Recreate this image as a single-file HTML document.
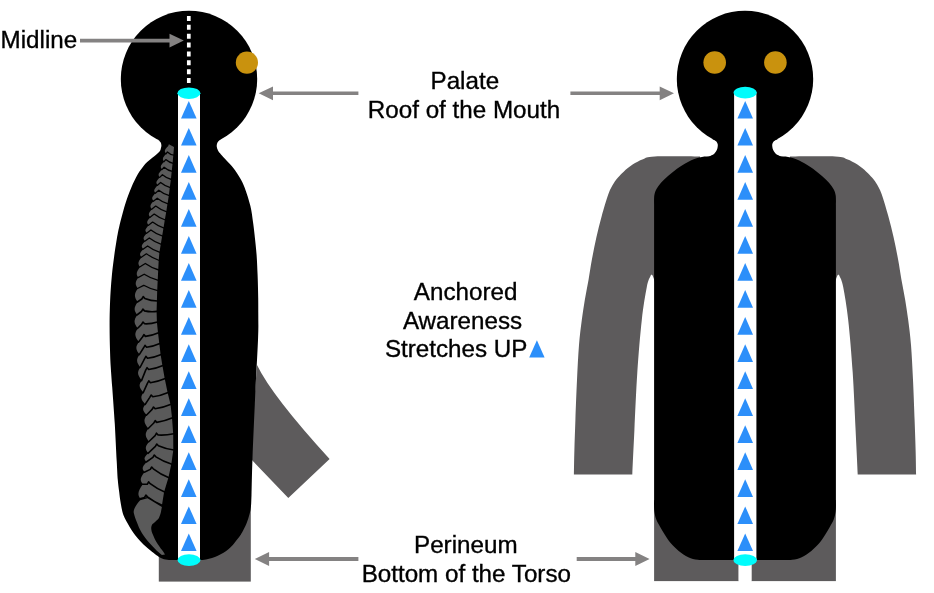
<!DOCTYPE html>
<html><head><meta charset="utf-8"><title>Anchored Awareness</title>
<style>
html,body{margin:0;padding:0;background:#fff;}
body{width:934px;height:593px;position:relative;overflow:hidden;font-family:"Liberation Sans",sans-serif;}
</style></head><body>
<svg width="934" height="593" viewBox="0 0 934 593" style="position:absolute;left:0;top:0;will-change:transform">
<path fill="#5d5b5c" d="M257 365Q272 396 329.6 459L288.3 498L250 458Z"/>
<rect fill="#5d5b5c" x="158.8" y="505" width="92" height="76.6"/>
<path fill="#000" d="M158.3 140.2C158.7 140.5 160.1 141.4 160.6 142.3C161.1 143.2 161.4 144.4 161.4 145.6C161.4 146.8 160.9 148.5 160.6 149.5C160.2 150.5 160.0 151.0 159.3 151.8C158.6 152.7 157.6 153.6 156.4 154.6C155.2 155.6 153.5 156.8 152.0 158.0C150.5 159.2 148.7 160.6 147.2 162.0C145.7 163.4 144.5 164.8 143.2 166.4C141.9 168.0 140.8 169.5 139.6 171.3C138.4 173.1 137.1 175.3 136.0 177.4C134.9 179.5 133.9 181.6 132.8 183.9C131.8 186.2 130.7 188.9 129.7 191.4C128.7 193.9 127.8 196.4 126.9 199.1C126.0 201.8 125.0 204.7 124.2 207.5C123.4 210.3 122.7 213.1 121.9 216.0C121.1 218.9 120.3 221.9 119.6 225.0C118.9 228.1 118.1 231.7 117.6 234.5C117.0 237.3 116.9 238.4 116.3 242.0C115.7 245.6 114.9 250.7 114.2 256.0C113.5 261.3 112.6 268.1 112.0 274.0C111.4 279.9 111.0 285.6 110.6 291.6C110.2 297.6 110.0 304.1 109.8 310.0C109.6 315.9 109.6 320.3 109.6 327.0C109.6 333.7 109.8 343.2 110.0 350.0C110.2 356.8 110.4 361.8 110.8 368.0C111.2 374.2 111.5 377.7 112.2 387.0C112.9 396.3 114.0 411.7 114.8 424.0C115.5 436.3 116.2 451.7 116.7 461.0C117.2 470.3 117.4 474.8 117.8 480.0C118.2 485.2 118.8 488.7 119.2 492.0C119.6 495.3 119.7 496.7 120.2 500.0C120.7 503.3 121.7 508.8 122.4 511.8C123.2 514.8 123.8 516.0 124.7 518.0C125.6 520.0 126.6 521.7 127.7 523.6C128.8 525.5 129.9 527.6 131.2 529.6C132.5 531.6 133.8 533.4 135.4 535.4C137.0 537.4 138.7 539.5 140.6 541.5C142.5 543.5 144.4 545.3 146.6 547.2C148.8 549.1 151.6 551.5 153.7 553.1C155.8 554.7 157.3 555.9 159.0 556.9C160.7 557.9 162.2 558.7 164.0 559.2C165.8 559.7 169.0 559.9 170.0 560.0L200.0 560.0C201.0 559.9 204.0 559.8 206.0 559.4C208.0 559.0 210.0 558.5 212.0 557.9C214.0 557.3 215.9 556.6 217.8 555.8C219.7 554.9 221.7 553.9 223.5 552.8C225.3 551.7 227.1 550.3 228.7 549.0C230.2 547.7 231.5 546.4 232.8 545.0C234.1 543.6 235.2 542.0 236.3 540.6C237.4 539.2 238.5 537.9 239.5 536.5C240.5 535.1 241.0 534.3 242.2 532.2C243.3 530.1 245.2 526.6 246.4 523.7C247.6 520.8 248.6 517.8 249.3 515.0C250.1 512.2 250.5 510.3 250.9 507.0C251.3 503.7 251.2 503.2 251.5 495.0C251.8 486.8 251.9 473.8 252.5 458.0C253.1 442.2 254.1 419.7 255.0 400.0C255.9 380.3 257.4 354.0 258.0 340.0C258.6 326.0 258.3 323.0 258.3 316.0C258.3 309.0 258.3 304.8 258.2 298.0C258.1 291.2 257.9 282.2 257.6 275.0C257.3 267.8 257.1 261.7 256.6 255.0C256.1 248.3 255.2 240.5 254.6 235.0C254.0 229.5 253.7 226.8 253.0 222.0C252.3 217.2 251.8 211.7 250.4 206.0C249.0 200.3 246.5 192.7 244.8 188.0C243.1 183.3 241.9 181.3 240.0 178.0C238.1 174.7 235.8 171.1 233.5 168.2C231.2 165.3 228.6 162.8 226.5 160.5C224.4 158.2 222.4 156.2 221.0 154.5C219.6 152.8 218.7 151.9 218.0 150.5C217.3 149.1 216.7 147.7 216.7 146.3C216.7 144.9 217.0 143.3 217.8 142.0C218.6 140.7 221.0 138.8 221.7 138.2Z"/>
<circle cx="189" cy="79" r="68.2" fill="#000"/>
<circle cx="246.9" cy="62.6" r="11.1" fill="#c9920e"/>
<path fill="#5a5a5a" d="M168.9 144.3L174.0 147.1L173.3 155.2L172.6 163.3L171.7 171.4L170.9 179.5L169.8 187.6L168.8 195.7L167.5 203.8L166.2 211.9L164.8 220.0L163.5 228.1L162.1 236.2L160.8 244.3L159.4 252.4L158.7 260.5L158.2 270.0L157.7 280.3L157.2 290.6L156.9 301.0L156.6 311.4L156.9 322.0L158.0 332.8L159.3 343.5L160.6 354.4L162.4 365.5L164.7 378.5L167.6 392.4L170.5 404.2L172.0 417.8L173.2 433.7L173.3 450.0L171.3 464.2L168.4 477.8L164.1 492.0L161.9 505.5L147.5 496.9L140.2 498.6C136.8 493.6 138.6 490.7 142.8 484.2C139.4 480.0 140.4 477.6 144.6 472.1C141.3 468.6 142.4 466.5 146.6 461.9C143.2 458.9 144.1 457.1 148.3 453.2C144.9 449.2 144.8 446.9 149.0 441.7C145.6 437.1 144.1 434.5 148.3 428.6C144.9 423.9 142.5 421.2 146.7 415.1C143.4 411.4 141.2 409.2 145.4 404.4C142.0 400.3 139.3 397.9 143.5 392.6C140.1 388.4 137.6 385.9 141.8 380.5C138.4 375.9 136.1 373.3 140.3 367.4C137.0 362.9 135.4 360.3 139.6 354.5C136.2 350.1 134.7 347.6 138.9 342.0C135.5 337.2 133.5 334.5 137.7 328.4C134.3 323.7 133.0 321.0 137.2 314.9C133.9 310.4 133.5 307.8 137.7 301.9C134.4 297.2 133.6 294.5 137.8 288.4C135.0 284.6 134.9 282.4 138.3 277.5C135.6 273.8 136.6 271.7 140.0 266.9C137.3 263.5 138.2 261.5 141.6 257.2C138.9 254.4 139.9 252.8 143.3 249.2C140.6 246.4 141.7 244.8 145.1 241.2C142.4 238.4 143.5 236.8 146.9 233.2C144.2 230.4 145.4 228.8 148.8 225.2C146.0 222.4 147.0 220.8 150.4 217.2C147.7 214.4 148.6 212.8 152.0 209.2C149.3 206.4 150.3 204.7 153.7 201.1C150.9 198.3 152.2 196.7 155.6 193.1C152.9 190.4 154.4 188.8 157.8 185.2C155.0 182.5 156.6 180.9 160.0 177.3C157.2 174.6 158.8 173.0 162.2 169.5C159.5 166.7 160.9 165.2 164.3 161.6C161.6 158.9 162.9 157.3 166.3 153.7C163.6 151.0 164.8 149.4 168.2 145.9Z"/><g fill="none" stroke="#000" stroke-linecap="round" stroke-linejoin="round"><path d="M173.9 155.2Q170.3 154.8 167.4 152.0L166.0 153.8" stroke-width="1.3"/><path d="M173.2 163.3Q169.2 162.7 165.8 159.6L164.0 161.7" stroke-width="1.3"/><path d="M172.3 171.4Q167.9 170.5 164.1 167.2L161.9 169.6" stroke-width="1.3"/><path d="M171.5 179.5Q166.6 178.4 162.4 174.8L159.7 177.4" stroke-width="1.3"/><path d="M170.4 187.6Q165.2 186.3 160.6 182.5L157.5 185.3" stroke-width="1.3"/><path d="M169.4 195.7Q163.8 194.2 158.8 190.2L155.3 193.2" stroke-width="1.3"/><path d="M168.1 203.8Q162.3 202.2 157.2 198.2L153.4 201.2" stroke-width="1.3"/><path d="M166.8 211.9Q160.9 210.2 155.7 206.1L151.7 209.3" stroke-width="1.3"/><path d="M165.4 220.0Q159.5 218.3 154.2 214.1L150.1 217.3" stroke-width="1.3"/><path d="M164.1 228.1Q158.0 226.3 152.6 222.1L148.5 225.3" stroke-width="1.3"/><path d="M162.7 236.2Q156.5 234.3 150.9 230.0L146.6 233.3" stroke-width="1.3"/><path d="M161.4 244.3Q155.0 242.3 149.3 238.0L144.8 241.3" stroke-width="1.3"/><path d="M160.0 252.4Q153.5 250.4 147.6 245.9L143.0 249.3" stroke-width="1.3"/><path d="M159.3 260.5Q152.6 258.3 146.4 253.8L141.3 257.3" stroke-width="1.3"/><path d="M158.8 270.0Q151.7 268.0 145.3 263.5L139.7 267.0" stroke-width="1.3"/><path d="M158.3 280.3Q150.9 278.5 144.2 274.2L138.0 277.6" stroke-width="1.3"/><path d="M157.8 290.6Q150.5 289.2 143.7 285.3L137.5 288.5" stroke-width="1.3"/><path d="M157.5 301.0Q150.9 300.9 144.8 298.4L143.2 296.6L141.8 299.0L137.4 302.0" stroke-width="1.6"/><path d="M157.2 311.4Q150.5 312.3 144.5 310.9L142.9 309.1L141.5 311.5L136.9 315.0" stroke-width="1.6"/><path d="M157.5 322.0Q150.8 324.1 144.6 323.8L143.0 322.0L141.6 324.4L137.4 328.5" stroke-width="1.6"/><path d="M158.6 332.8Q151.7 335.8 145.5 336.4L143.9 334.6L142.5 337.0L138.6 342.1" stroke-width="1.6"/><path d="M159.9 343.5Q152.9 346.6 146.6 347.2L145.0 345.4L143.6 347.8L139.3 354.6" stroke-width="1.6"/><path d="M161.2 354.4Q154.1 357.5 147.5 358.2L145.9 356.4L144.5 358.8L140.0 367.5" stroke-width="1.6"/><path d="M163.0 365.5Q155.6 368.7 148.7 369.5L147.1 367.7L145.7 370.1L141.5 380.6" stroke-width="1.6"/><path d="M165.3 378.5Q157.5 381.8 150.4 382.7L148.8 380.9L147.4 383.3L143.2 392.7" stroke-width="1.6"/><path d="M168.2 392.4Q160.2 395.8 152.8 396.8L151.2 395.0L149.8 397.4L145.1 404.5" stroke-width="1.6"/><path d="M171.1 404.2Q162.8 407.7 155.1 408.8L153.5 407.0L152.1 409.4L146.4 415.2" stroke-width="1.6"/><path d="M172.6 417.8Q164.4 421.3 156.8 422.4L155.2 420.6L153.8 423.0L148.0 428.7" stroke-width="1.6"/><path d="M173.8 433.7Q165.6 435.5 158.1 435.0L156.5 433.2L155.1 435.6L148.7 441.8" stroke-width="1.6"/><path d="M173.9 450.0Q165.8 449.1 158.4 445.8L156.8 444.0L155.4 446.4L148.0 453.3" stroke-width="1.6"/><path d="M171.9 464.2Q163.6 461.7 155.9 456.8L154.3 455.0L152.9 457.4L146.3 462.0" stroke-width="1.6"/><path d="M169.0 477.8Q160.8 474.5 153.3 468.8L151.7 467.0L150.3 469.4L144.3 472.2" stroke-width="1.6"/><path d="M164.7 492.0Q157.1 489.0 150.2 483.7L148.6 481.9L147.2 484.3L142.5 484.3" stroke-width="1.6"/><path d="M162.5 505.5Q154.7 502.4 147.5 496.9L145.9 495.1L144.5 497.5L139.9 498.7" stroke-width="1.6"/></g><path fill="#5a5a5a" d="M147.5 498.3L140.2 500.2C133.2 508 133.5 512 133.8 513C134.5 516 135.4 519 137.6 524C139 528 141.4 533.1 147.5 540.7C152 546 158 552 161.9 555.1L165 554.4C163 551 161 549 159.6 546.8C157 543 154.5 539 153.6 536.2C151.5 532 151 529 151.3 527C151.6 525 152.5 524 153.6 523.3C156 521 158 519.5 158.9 518C160.3 515 161 512 161.2 510.4L161.9 506.9Z"/>
<rect x="178" y="93" width="22" height="467" fill="#fff"/>
<ellipse cx="188.9" cy="93.2" rx="11.5" ry="5.8" fill="#00fcfc"/>
<ellipse cx="189" cy="560.1" rx="11.5" ry="5.8" fill="#00fcfc"/>
<g fill="#2c8ffa"><path d="M188.8 100.9L196.6 118.6L181.0 118.6Z"/><path d="M188.8 127.9L196.6 145.6L181.0 145.6Z"/><path d="M188.8 155.0L196.6 172.7L181.0 172.7Z"/><path d="M188.8 182.0L196.6 199.7L181.0 199.7Z"/><path d="M188.8 209.0L196.6 226.7L181.0 226.7Z"/><path d="M188.8 236.1L196.6 253.8L181.0 253.8Z"/><path d="M188.8 263.1L196.6 280.8L181.0 280.8Z"/><path d="M188.8 290.1L196.6 307.8L181.0 307.8Z"/><path d="M188.8 317.1L196.6 334.8L181.0 334.8Z"/><path d="M188.8 344.2L196.6 361.9L181.0 361.9Z"/><path d="M188.8 371.2L196.6 388.9L181.0 388.9Z"/><path d="M188.8 398.2L196.6 415.9L181.0 415.9Z"/><path d="M188.8 425.3L196.6 443.0L181.0 443.0Z"/><path d="M188.8 452.3L196.6 470.0L181.0 470.0Z"/><path d="M188.8 479.3L196.6 497.0L181.0 497.0Z"/><path d="M188.8 506.4L196.6 524.1L181.0 524.1Z"/><path d="M188.8 533.4L196.6 551.1L181.0 551.1Z"/></g>
<line x1="188.8" y1="16" x2="188.8" y2="83.2" stroke="#fff" stroke-width="3.7" stroke-dasharray="5 3.87"/>
<path fill="#5d5b5c" d="M700.0 156.5C692.5 156.5 664.3 156.1 654.8 156.5C645.3 156.9 646.7 157.8 643.0 159.2C639.3 160.5 635.8 162.5 632.6 164.6C629.4 166.7 626.1 169.5 623.7 171.7C621.3 173.8 619.6 175.6 618.0 177.5C616.4 179.4 615.5 180.2 613.9 182.9C612.3 185.6 610.4 188.4 608.4 193.9C606.4 199.4 603.8 208.5 601.8 215.8C599.8 223.1 597.9 230.4 596.3 237.7C594.6 245.0 593.2 252.7 591.9 259.6C590.6 266.6 589.8 272.7 588.6 279.4C587.4 286.1 585.9 293.2 584.8 300.0C583.7 306.8 582.8 312.5 581.8 320.0C580.8 327.5 579.8 335.0 579.0 345.0C578.2 355.0 577.6 367.5 577.0 380.0C576.4 392.5 575.8 408.3 575.4 420.0C575.0 431.7 574.6 440.9 574.4 450.0C574.1 459.1 574.0 470.3 573.9 474.4L632.3 474.4C632.6 467.0 633.6 447.0 634.4 430.0C635.2 413.0 636.1 390.9 637.3 372.6C638.5 354.3 640.2 334.3 641.8 320.0C643.4 305.7 645.4 294.3 646.8 287.0C648.2 279.7 649.6 278.3 650.4 276.3C651.2 274.3 651.2 274.8 651.6 274.8C652.0 274.8 652.3 274.8 653.0 276.5C653.7 278.2 655.5 283.6 656.0 285.0L700 285Z"/>
<path fill="#5d5b5c" d="M790 285L834.0 285.0C834.5 283.6 836.3 278.2 837.0 276.5C837.7 274.8 838.0 274.8 838.4 274.8C838.8 274.8 838.8 274.3 839.6 276.3C840.4 278.3 841.8 279.7 843.2 287.0C844.6 294.3 846.6 305.7 848.2 320.0C849.8 334.3 851.5 354.3 852.7 372.6C853.9 390.9 854.8 413.0 855.6 430.0C856.4 447.0 857.4 467.0 857.7 474.4L916.1 474.4C916.0 470.3 915.9 459.1 915.6 450.0C915.4 440.9 915.0 431.7 914.6 420.0C914.2 408.3 913.6 392.5 913.0 380.0C912.4 367.5 911.8 355.0 911.0 345.0C910.2 335.0 909.2 327.5 908.2 320.0C907.2 312.5 906.3 306.8 905.2 300.0C904.1 293.2 902.6 286.1 901.4 279.4C900.2 272.7 899.4 266.6 898.1 259.6C896.8 252.7 895.4 245.0 893.7 237.7C892.1 230.4 890.2 223.1 888.2 215.8C886.2 208.5 883.6 199.4 881.6 193.9C879.6 188.4 877.7 185.6 876.1 182.9C874.5 180.2 873.6 179.4 872.0 177.5C870.4 175.6 868.7 173.8 866.3 171.7C863.9 169.5 860.6 166.7 857.4 164.6C854.2 162.5 850.7 160.5 847.0 159.2C843.3 157.8 844.7 156.9 835.2 156.5C825.7 156.1 797.5 156.5 790.0 156.5Z"/>
<rect fill="#5d5b5c" x="654.1" y="500" width="84.6" height="81.1"/>
<rect fill="#5d5b5c" x="751.4" y="500" width="84.5" height="81.1"/>
<path fill="#000" d="M720.0 156.3C718.2 156.3 712.9 156.1 709.4 156.3C705.9 156.5 702.9 156.6 699.3 157.5C695.7 158.4 691.7 160.1 688.0 162.0C684.3 163.9 680.3 166.4 677.0 168.7C673.7 171.0 670.7 173.7 668.0 176.0C665.3 178.3 662.9 180.6 661.0 182.8C659.1 185.0 657.6 186.9 656.5 189.0C655.4 191.1 654.7 192.8 654.3 195.5C653.9 198.2 654.1 203.4 654.1 205.0L654.1 500.0C654.1 501.8 653.9 507.8 654.3 511.0C654.7 514.2 655.3 516.8 656.3 519.5C657.3 522.2 658.8 524.4 660.2 527.0C661.7 529.6 663.3 532.3 665.0 535.0C666.7 537.7 668.3 540.3 670.6 543.0C672.9 545.7 675.8 548.6 678.7 551.0C681.7 553.4 685.1 555.7 688.3 557.2C691.5 558.7 694.3 559.3 697.9 559.8C701.5 560.3 708.0 560.0 710.0 560.0L780.0 560.0C782.0 560.0 788.5 560.3 792.1 559.8C795.7 559.3 798.5 558.7 801.7 557.2C804.9 555.7 808.3 553.4 811.3 551.0C814.2 548.6 817.1 545.7 819.4 543.0C821.7 540.3 823.3 537.7 825.0 535.0C826.7 532.3 828.3 529.6 829.8 527.0C831.2 524.4 832.7 522.2 833.7 519.5C834.7 516.8 835.3 514.2 835.7 511.0C836.1 507.8 835.9 501.8 835.9 500.0L835.9 205.0C835.9 203.4 836.1 198.2 835.7 195.5C835.3 192.8 834.6 191.1 833.5 189.0C832.4 186.9 830.9 185.0 829.0 182.8C827.1 180.6 824.7 178.3 822.0 176.0C819.3 173.7 816.3 171.0 813.0 168.7C809.7 166.4 805.7 163.9 802.0 162.0C798.3 160.1 794.3 158.4 790.7 157.5C787.1 156.6 784.1 156.5 780.6 156.3C777.1 156.1 771.8 156.3 770.0 156.3Z"/>
<circle cx="745" cy="79" r="68.2" fill="#000"/>
<path fill="#000" d="M712.5 139.3C713.1 139.6 715.1 140.4 716.0 141.2C716.9 141.9 717.3 142.9 717.6 143.8C717.9 144.7 717.8 145.6 717.7 146.6C717.6 147.6 717.4 148.8 716.8 150.0C716.2 151.2 715.2 152.9 714.0 154.0C712.8 155.1 710.2 155.6 709.4 156.6C708.6 157.6 709.1 159.4 709.0 160.0L781.0 160.0C780.9 159.4 781.4 157.6 780.6 156.6C779.8 155.6 777.2 155.1 776.0 154.0C774.8 152.9 773.8 151.2 773.2 150.0C772.6 148.8 772.4 147.6 772.3 146.6C772.2 145.6 772.1 144.7 772.4 143.8C772.7 142.9 773.1 141.9 774.0 141.2C774.9 140.4 776.9 139.6 777.5 139.3L745 100Z"/>
<circle cx="714.7" cy="62.5" r="11.3" fill="#c9920e"/>
<circle cx="775.4" cy="62.5" r="11.3" fill="#c9920e"/>
<rect x="734.1" y="92.6" width="22.3" height="467.5" fill="#fff"/>
<rect x="738.6" y="560" width="12.9" height="20.9" fill="#fff"/>
<ellipse cx="745.2" cy="92.6" rx="11.6" ry="5.8" fill="#00fcfc"/>
<ellipse cx="745.2" cy="560.1" rx="11.7" ry="5.8" fill="#00fcfc"/>
<g fill="#2c8ffa"><path d="M745.2 100.9L753.0 118.6L737.4 118.6Z"/><path d="M745.2 127.9L753.0 145.6L737.4 145.6Z"/><path d="M745.2 155.0L753.0 172.7L737.4 172.7Z"/><path d="M745.2 182.0L753.0 199.7L737.4 199.7Z"/><path d="M745.2 209.0L753.0 226.7L737.4 226.7Z"/><path d="M745.2 236.1L753.0 253.8L737.4 253.8Z"/><path d="M745.2 263.1L753.0 280.8L737.4 280.8Z"/><path d="M745.2 290.1L753.0 307.8L737.4 307.8Z"/><path d="M745.2 317.1L753.0 334.8L737.4 334.8Z"/><path d="M745.2 344.2L753.0 361.9L737.4 361.9Z"/><path d="M745.2 371.2L753.0 388.9L737.4 388.9Z"/><path d="M745.2 398.2L753.0 415.9L737.4 415.9Z"/><path d="M745.2 425.3L753.0 443.0L737.4 443.0Z"/><path d="M745.2 452.3L753.0 470.0L737.4 470.0Z"/><path d="M745.2 479.3L753.0 497.0L737.4 497.0Z"/><path d="M745.2 506.4L753.0 524.1L737.4 524.1Z"/><path d="M745.2 533.4L753.0 551.1L737.4 551.1Z"/></g>
<path fill="#848282" d="M80.0 38.8L169.5 38.8L169.5 33.7L183.8 40.6L169.5 47.5L169.5 42.5L80.0 42.5Z"/>
<path fill="#848282" d="M358.4 91.5L273.0 91.5L273.0 86.4L258.7 93.3L273.0 100.2L273.0 95.1L358.4 95.1Z"/>
<path fill="#848282" d="M570.4 91.5L659.7 91.5L659.7 86.4L674.0 93.3L659.7 100.2L659.7 95.1L570.4 95.1Z"/>
<path fill="#848282" d="M358.4 557.1L269.1 557.1L269.1 552.1L254.8 559.0L269.1 565.9L269.1 560.9L358.4 560.9Z"/>
<path fill="#848282" d="M576.7 557.1L635.3 557.1L635.3 552.1L649.6 559.0L635.3 565.9L635.3 560.9L576.7 560.9Z"/>
<g font-family="Liberation Sans, sans-serif" font-size="24.2" fill="#000" stroke="#000" stroke-width="0.35">
<text x="0.6" y="48.4">Midline</text>
<g text-anchor="middle">
<text x="464.8" y="88.5">Palate</text>
<text x="464" y="117.5">Roof of the Mouth</text>
<text x="465.6" y="299.5">Anchored</text>
<text x="462.5" y="328.6">Awareness</text>
<text x="456.2" y="357.4">Stretches UP</text>
<text x="465.8" y="553.4">Perineum</text>
<text x="466.3" y="582.3">Bottom of the Torso</text>
</g></g>
<path fill="#2c8ffa" d="M536.9 340.3L544.6 357.4L529.2 357.4Z"/>
</svg>
</body></html>
